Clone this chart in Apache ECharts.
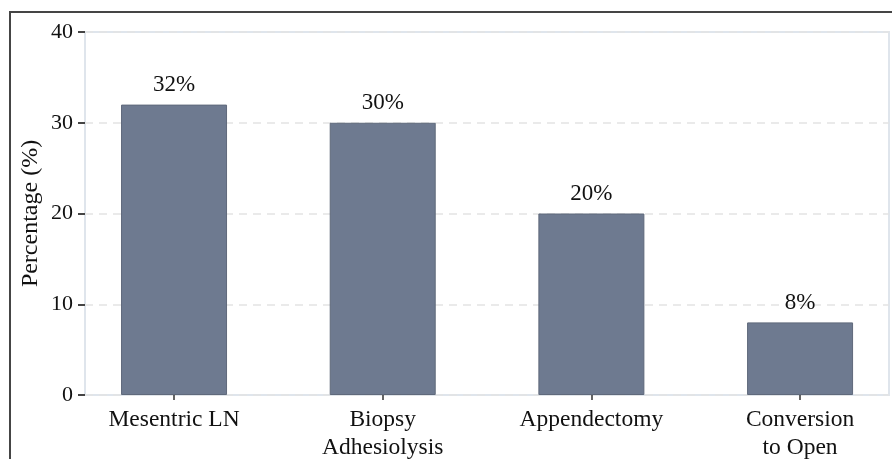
<!DOCTYPE html>
<html>
<head>
<meta charset="utf-8">
<script src="https://cdn.jsdelivr.net/npm/echarts@6/dist/echarts.min.js"></script>
<style>
html,body{margin:0;padding:0;background:#fff;}
#chart{width:892px;height:459px;}
</style>
</head>
<body>
<div id="chart"></div>
<script>
const categories = ['Mesentric LN', 'Biopsy\nAdhesiolysis', 'Appendectomy', 'Conversion\nto Open'];
const values = [32, 30, 20, 8];
const yTicks = [0, 10, 20, 30, 40];

const font = 'Liberation Serif, Times New Roman, serif';
const chart = echarts.init(document.getElementById('chart'), null, {renderer: 'canvas'});
chart.setOption({
  animation: false,
  backgroundColor: '#ffffff',
  graphic: [{
    type: 'rect', z: 100, silent: true,
    shape: {x: 10, y: 12, width: 1200, height: 1200},
    style: {fill: 'none', stroke: '#454545', lineWidth: 2}
  }],
  grid: [
    {left: 85, top: 32, right: 3, bottom: 64, show: true, borderColor: '#dfe5ec', borderWidth: 2, backgroundColor: 'transparent', outerBoundsMode: 'none', containLabel: false},
    {left: 69.7, top: 32, width: 834.7, bottom: 64, outerBoundsMode: 'none', containLabel: false}
  ],
  xAxis: [
    {type: 'value', gridIndex: 0, show: false, min: 0, max: 1},
    {type: 'category', gridIndex: 1, data: categories,
     axisLine: {show: false},
     axisTick: {show: true, alignWithLabel: true, length: 5, lineStyle: {color: '#333', width: 1.5}},
     axisLabel: {fontFamily: font, fontSize: 23.5, color: '#111', margin: 11, lineHeight: 28}}
  ],
  yAxis: [
    {type: 'value', gridIndex: 0, min: yTicks[0], max: yTicks[yTicks.length - 1], interval: 10,
     name: 'Percentage (%)', nameLocation: 'middle', nameGap: 42, nameMoveOverlap: false,
     nameTextStyle: {fontFamily: font, fontSize: 24, color: '#111'},
     axisLine: {show: false},
     axisTick: {show: true, length: 7, lineStyle: {color: '#444', width: 2}},
     axisLabel: {fontFamily: font, fontSize: 22, color: '#111', margin: 12},
     splitLine: {show: true, lineStyle: {color: '#e3e3e3', type: [8, 6], width: 1.5}}},
    {type: 'value', gridIndex: 1, min: 0, max: 40, show: false}
  ],
  series: [{
    type: 'bar', xAxisIndex: 1, yAxisIndex: 1,
    data: values, barWidth: 106,
    itemStyle: {color: '#6e7a90', borderColor: '#5f697b', borderWidth: 1},
    label: {show: true, position: 'top', distance: 8, formatter: '{c}%',
            fontFamily: font, fontSize: 23, color: '#111'}
  }]
});
</script>
</body>
</html>
